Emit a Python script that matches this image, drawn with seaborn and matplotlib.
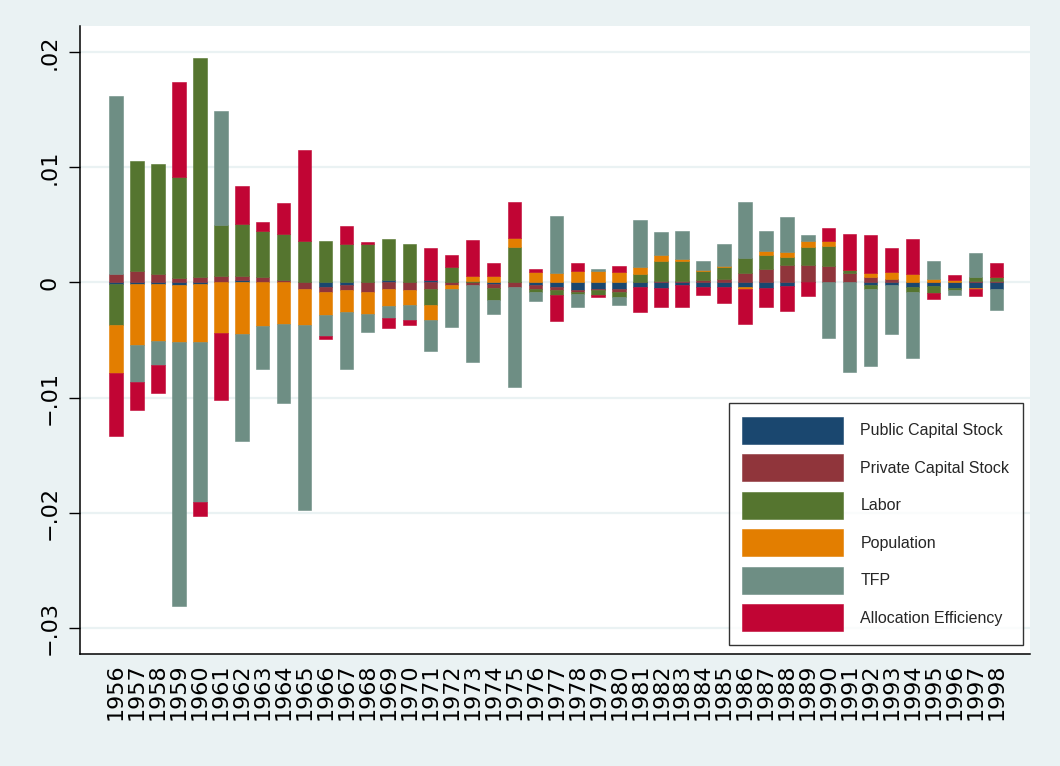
import numpy as np
import pandas as pd
import matplotlib
matplotlib.use("Agg")
import matplotlib.pyplot as plt
import seaborn as sns

years = [str(y) for y in range(1956, 1999)]

public = [-0.0001, -0.00015, -0.00015, -0.0002, -0.00015, 0.0, 0.0002, 0.0, 0.0, 0.0,
          -0.0004, -0.0002, 0.0, 0.00025, 0.0, 0.00025, 0.0, 0.0, -0.0001, 0.0,
          -0.0002, -0.0004, -0.0007, -0.0006, -0.0006, -0.0004, -0.0005, -0.0002, -0.0004, -0.0004,
          -0.0004, -0.0005, -0.0003, 0.0, 0.0, 0.0, -0.0002, -0.0002, -0.0004, -0.0003,
          -0.0005, -0.0005, -0.0006]
private = [0.0007, 0.00095, 0.00075, 0.0004, 0.0005, 0.0006, 0.0004, 0.00045, 0.0002, -0.0006,
           -0.00045, -0.00045, -0.00085, -0.00055, -0.0007, -0.0006, -0.0002, -0.0002, -0.0004, -0.0004,
           -0.0004, -0.00026, -0.0001, -0.0001, -0.0002, 0.0, 0.00015, 0.00015, 0.0002, 0.0003,
           0.0008, 0.0012, 0.0015, 0.0015, 0.0014, 0.0008, 0.0005, 0.0003, 0.0, 0.0,
           0.0, 0.00015, 0.0001]
labor = [-0.0036, 0.0096, 0.0095, 0.0088, 0.0190, 0.0044, 0.0045, 0.0040, 0.0040, 0.0036,
         0.0036, 0.0033, 0.0033, 0.0035, 0.0033, -0.0014, 0.0013, 0.0001, -0.0010, 0.0031,
         -0.0002, -0.0004, -0.0002, -0.0004, -0.0005, 0.0007, 0.0017, 0.0017, 0.0008, 0.0010,
         0.0013, 0.0012, 0.0007, 0.0016, 0.0018, 0.0003, -0.0004, 0.0, -0.0004, -0.0006,
         -0.0002, 0.0003, 0.0004]
population = [-0.0042, -0.0053, -0.0049, -0.0050, -0.0050, -0.0044, -0.0045, -0.0038, -0.0036, -0.0031,
              -0.0020, -0.0019, -0.0019, -0.0015, -0.0013, -0.0013, -0.0004, 0.00045, 0.0006, 0.0008,
              0.0009, 0.0008, 0.0010, 0.0010, 0.0009, 0.0006, 0.0005, 0.0002, 0.0001, 0.0001,
              -0.0002, 0.00035, 0.00045, 0.0005, 0.0004, 0.0, 0.0003, 0.0006, 0.0007, 0.0003,
              0.0002, -0.0001, 0.0]
tfp = [0.0155, -0.0032, -0.0021, -0.0229, -0.0139, 0.0099, -0.0093, -0.0037, -0.0069, -0.0161,
       -0.0018, -0.0050, -0.0016, -0.0010, -0.0013, -0.0027, -0.0033, -0.0067, -0.0012, -0.0087,
       -0.0008, 0.0050, -0.0011, 0.0002, -0.0007, 0.0041, 0.0020, 0.0024, 0.0008, 0.0019,
       0.0049, 0.0017, 0.0030, 0.0005, -0.0048, -0.0078, -0.0067, -0.0043, -0.0058, 0.0016,
       -0.0004, 0.0021, -0.0018]
allocation = [-0.0054, -0.0024, -0.0025, 0.0082, -0.0012, -0.0058, 0.0033, 0.0008, 0.0027, 0.0079,
              -0.0003, 0.0016, 0.0002, -0.0009, -0.0004, 0.0027, 0.0011, 0.0031, 0.0011, 0.0031,
              0.0003, -0.0023, 0.0007, -0.0002, 0.0005, -0.0022, -0.0016, -0.0019, -0.0007, -0.0014,
              -0.0030, -0.0016, -0.0022, -0.0012, 0.0011, 0.0031, 0.0033, 0.0021, 0.0031, -0.0005,
              0.00045, -0.0006, 0.0012]

series_names = ["Public Capital Stock", "Private Capital Stock", "Labor",
                "Population", "TFP", "Allocation Efficiency"]
series_values = [public, private, labor, population, tfp, allocation]
colors = ["#1a476f", "#90353b", "#55752f", "#e37e00", "#6e8e84", "#c10534"]

ytick_vals = [0.02, 0.01, 0.0, -0.01, -0.02, -0.03]
ytick_labels = [".02", ".01", "0", "\u2212.01", "\u2212.02", "\u2212.03"]

bg = "#eaf2f3"
sns.set_theme(style="white")
plt.rcParams["font.family"] = ["Liberation Sans", "DejaVu Sans"]

fig = plt.figure(figsize=(10.6, 7.66), dpi=100, facecolor=bg)
ax = fig.add_axes([80 / 1060, (766 - 653.5) / 766, 950 / 1060, 627.5 / 766])
ax.set_facecolor("white")

df = pd.DataFrame({"year": years})
pos_base = np.zeros(len(years))
neg_base = np.zeros(len(years))
for name, vals, col in zip(series_names, series_values, colors):
    v = np.array(vals, dtype=float)
    df["value"] = v
    bottom = np.where(v >= 0, pos_base, neg_base)
    sns.barplot(data=df, x="year", y="value", color=col, saturation=1,
                bottom=bottom, width=0.64, errorbar=None, label=name,
                linewidth=0.4, edgecolor=col, ax=ax)
    pos_base += np.clip(v, 0, None)
    neg_base += np.clip(v, None, 0)

ax.set_xlim(-1.72, 43.6)
ax.set_ylim(-0.03224, 0.02228)
ax.set_yticks(ytick_vals)
ax.set_yticklabels(ytick_labels)
ax.yaxis.grid(True, color=bg, linewidth=1.6)
ax.set_axisbelow(True)
ax.set_xlabel("")
ax.set_ylabel("")

for s in ["top", "right"]:
    ax.spines[s].set_visible(False)
for s in ["left", "bottom"]:
    ax.spines[s].set_color("black")
    ax.spines[s].set_linewidth(1.1)

ax.tick_params(axis="y", left=True, length=8, width=1, color="black",
               labelrotation=90, pad=7, labelcolor="black")
ax.tick_params(axis="x", bottom=False, length=0,
               labelrotation=90, pad=7, labelcolor="black")
for lab in ax.get_yticklabels():
    lab.set_verticalalignment("center")
    lab.set_family("DejaVu Sans")
    lab.set_fontsize(16)
for lab in ax.get_xticklabels():
    lab.set_family("DejaVu Sans")
    lab.set_fontsize(16)

leg = ax.legend(loc="lower right", bbox_to_anchor=(0.9926, 0.0135),
                borderaxespad=0, fontsize=11.5, frameon=True, fancybox=False,
                handlelength=6.3, handleheight=2.22, labelspacing=0.66,
                handletextpad=1.1, borderpad=0.85)
leg.get_frame().set_edgecolor("black")
leg.get_frame().set_linewidth(1.0)
leg.get_frame().set_facecolor("white")

fig.savefig("out.png", dpi=100, facecolor=bg)
